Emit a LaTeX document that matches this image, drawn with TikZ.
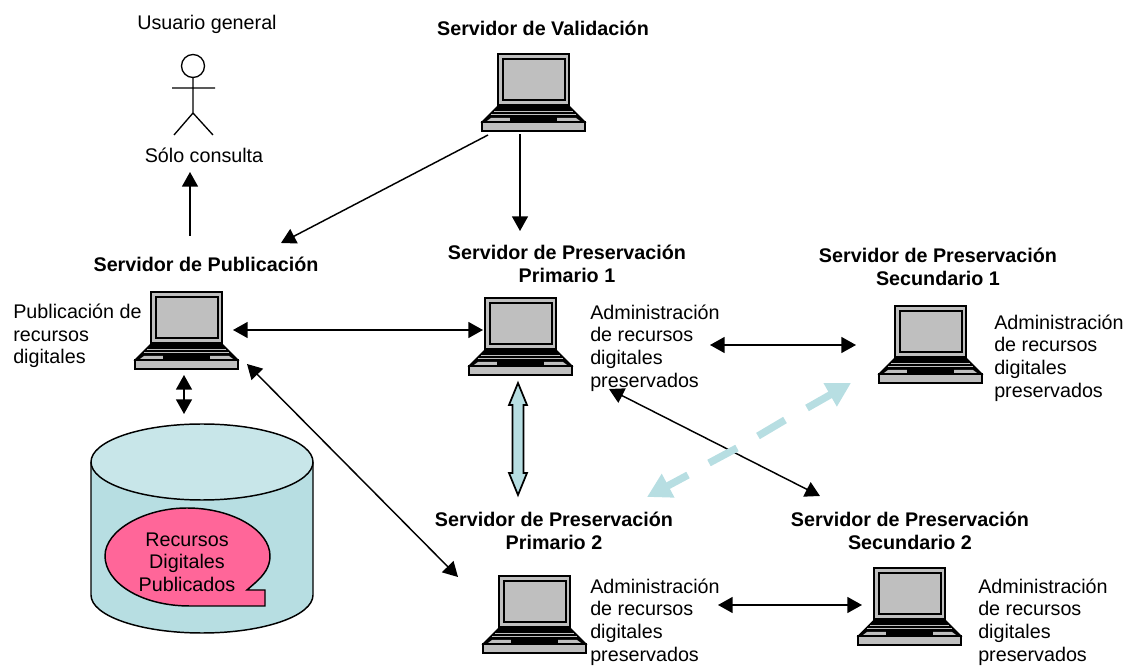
\documentclass[tikz,border=0pt]{standalone}
\usepackage{fontspec}
\setmainfont{Liberation Sans}
\usetikzlibrary{arrows.meta}
\definecolor{diskside}{HTML}{B7DEE2}
\definecolor{disktop}{HTML}{C8E6E9}
\definecolor{bubblepink}{HTML}{FF6699}
\definecolor{screengrey}{HTML}{BFBFBF}
\tikzset{
	x=0.75pt,y=-0.75pt,
	every node/.style={align=left,font=\fontsize{14.8}{17}\selectfont,inner sep=0pt},
	title/.style={align=center,font=\fontsize{14.8}{17}\selectfont\bfseries},
	sidetext/.style={anchor=west},
	link/.style={line width=1.1pt,{Triangle[length=11pt,width=12pt]}-{Triangle[length=11pt,width=12pt]}},
	oneway/.style={line width=1.1pt,-{Triangle[length=11pt,width=12pt]}},
	paledash/.style={line width=5.5pt,diskside},
	palehead/.style={paledash,-{Triangle[length=18pt,width=19pt]}},
	laptop/.pic={
		\draw[line width=1.1pt,fill=screengrey] (16,0) rectangle (87,51);
		\draw[line width=1.1pt,fill=screengrey] (21,5) rectangle (83,46);
		\draw[line width=0.8pt,fill=black] (16,52) -- (87,52) -- (103,68) -- (0,68) -- cycle;
		\draw[screengrey,line width=0.3pt] (12,57) -- (91,57) (9,60) -- (94,60);
		\fill[screengrey] (9,64) -- (94,64) -- (98,67) -- (5,67) -- cycle;
		\fill (28,63) rectangle (75,68);
		\draw[line width=1.1pt,fill=screengrey] (0,68) rectangle (103,77);
	}
}
\begin{document}
\begin{tikzpicture}
	\useasboundingbox (0,0) rectangle (1133,666);
	\pic at (482,54) {laptop};
	\pic at (135,292) {laptop};
	\pic at (469,298) {laptop};
	\pic at (879,306) {laptop};
	\pic at (483,576) {laptop};
	\pic at (858,568) {laptop};
	% titles
	\node (usuario) at (207,24) {Usuario general};
	\node[title] (validacion) at (543,28) {Servidor de Validación};
	\node (consulta) at (204,155) {Sólo consulta};
	\node[title] (publicacion) at (206,264) {Servidor de Publicación};
	\node[title] (primario1) at (567,264) {Servidor de Preservación\\Primario 1};
	\node[title] (secundario1) at (938,267) {Servidor de Preservación\\Secundario 1};
	\node[title] (primario2) at (554,531) {Servidor de Preservación\\Primario 2};
	\node[title] (secundario2) at (910,531) {Servidor de Preservación\\Secundario 2};
	% side texts
	\node[sidetext] (textpub) at (13,336) {Publicación de\\recursos\\digitales};
	\node[sidetext] (textpri1) at (590,348) {Administración\\de recursos\\digitales\\preservados};
	\node[sidetext] (textsec1) at (994,358) {Administración\\de recursos\\digitales\\preservados};
	\node[sidetext] (textpri2) at (590,622) {Administración\\de recursos\\digitales\\preservados};
	\node[sidetext] (textsec2) at (978,622) {Administración\\de recursos\\digitales\\preservados};
	% user
	\draw[line width=1pt] (193,66) circle (11.5);
	\draw[line width=1pt] (193,77) -- (193,113) (172,88) -- (215,88) (174,135) -- (193,113) -- (213,135);
	% disk
	\draw[line width=1.1pt,fill=diskside] (91,462) -- (91,595) arc[start angle=180,end angle=0,x radius=111,y radius=38] -- (313,462);
	\draw[line width=1.1pt,fill=disktop] (202,462) ellipse (111 and 38);
	\draw[line width=1.1pt,fill=bubblepink] (265,590) -- (265,606) -- (190,606)
		.. controls (140,606) and (105,582) .. (105,556)
		.. controls (105,530) and (145,508) .. (187,508)
		.. controls (232,508) and (270,530) .. (270,556)
		.. controls (270,567) and (264,575) .. (255,583) -- (247,590) -- cycle;
	\node[align=center] (recursos) at (187,562) {Recursos\\Digitales\\Publicados};
	% arrow ends
	\coordinate (a1) at (190,236);
	\coordinate (a2) at (190,172);
	\coordinate (b1) at (488,135);
	\coordinate (b2) at (281,243);
	\coordinate (c1) at (520,134);
	\coordinate (c2) at (520,231);
	\coordinate (d1) at (233,330);
	\coordinate (d2) at (483,330);
	\coordinate (e1) at (184,375);
	\coordinate (e2) at (184,414);
	\coordinate (f1) at (247,364);
	\coordinate (f2) at (458,577);
	\coordinate (g1) at (710,345);
	\coordinate (g2) at (856,345);
	\coordinate (h1) at (609,389);
	\coordinate (h2) at (820,496);
	\coordinate (i1) at (718,605);
	\coordinate (i2) at (862,605);
	\draw[oneway] (a1) -- (a2);
	\draw[oneway] (b1) -- (b2);
	\draw[oneway] (c1) -- (c2);
	\draw[link] (d1) -- (d2);
	\draw[link] (e1) -- (e2);
	\draw[link] (f1) -- (f2);
	\draw[link] (g1) -- (g2);
	\draw[link] (h1) -- (h2);
	\draw[link] (i1) -- (i2);
	% wide arrows
	\draw[line width=1.3pt,line join=miter,fill=diskside] (518,383) -- (527,405) -- (523.5,405) -- (523.5,473) -- (527,473) -- (518,495)
		-- (509,473) -- (512.5,473) -- (512.5,405) -- (509,405) -- cycle;
	\coordinate (k1) at (807,408);
	\coordinate (k2) at (851,383);
	\coordinate (k3) at (785,420);
	\coordinate (k4) at (758,436);
	\coordinate (k5) at (737,448);
	\coordinate (k6) at (709,463);
	\coordinate (k7) at (688,475);
	\coordinate (k8) at (647,497);
	\draw[palehead] (k1) -- (k2);
	\draw[paledash] (k3) -- (k4);
	\draw[paledash] (k5) -- (k6);
	\draw[palehead] (k7) -- (k8);
\end{tikzpicture}
\end{document}
